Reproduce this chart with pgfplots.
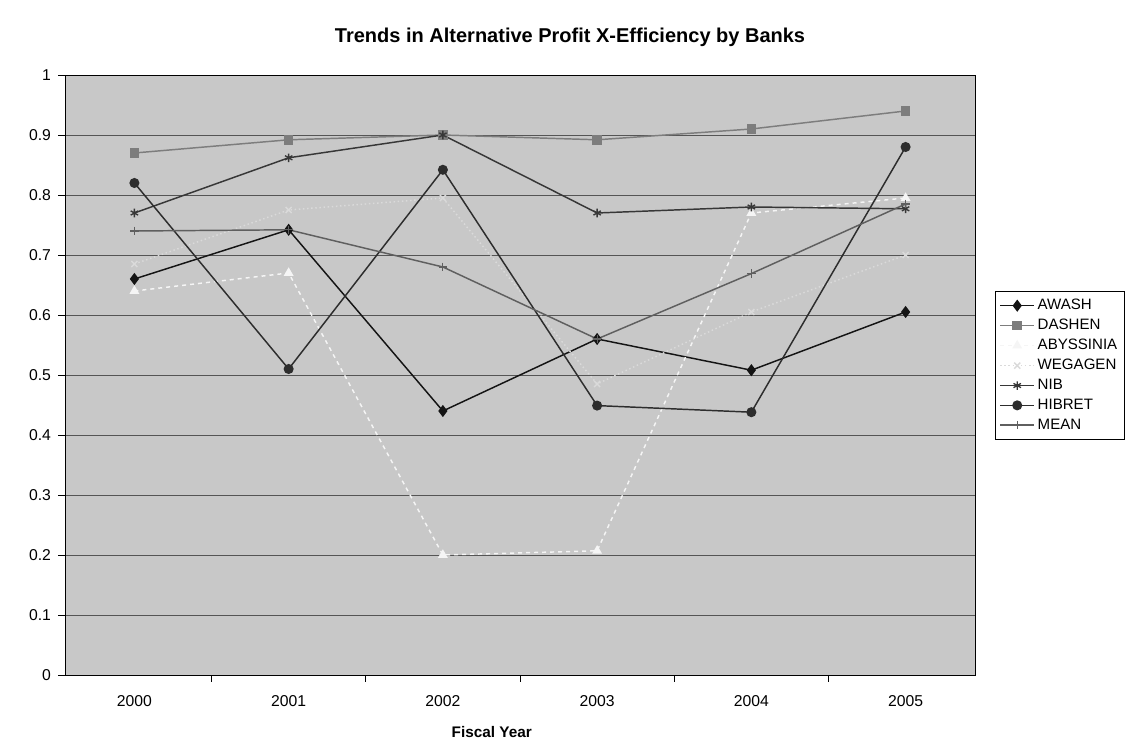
\documentclass[border=0pt]{standalone}
\usepackage{pgfplots}
\pgfplotsset{compat=1.18}
\usepackage{fontspec}
\setmainfont{Liberation Sans}
\definecolor{bgplot}{RGB}{200,200,200}
\definecolor{gridc}{RGB}{85,85,85}
\definecolor{cawash}{RGB}{20,20,20}
\definecolor{cdashen}{RGB}{125,125,125}
\definecolor{cabys}{RGB}{245,245,245}
\definecolor{cwega}{RGB}{218,218,218}
\definecolor{cnib}{RGB}{55,55,55}
\definecolor{chib}{RGB}{45,45,45}
\definecolor{cmean}{RGB}{95,95,95}
\begin{document}
\begin{tikzpicture}
\begin{axis}[
  scale only axis,
  width=682.5pt, height=450pt,
  xmin=-0.45, xmax=5.45,
  ymin=0, ymax=1,
  ytick={0,0.1,0.2,0.3,0.4,0.5,0.6,0.7,0.8,0.9,1},
  yticklabels={0,0.1,0.2,0.3,0.4,0.5,0.6,0.7,0.8,0.9,1},
  xtick={0,1,2,3,4,5},
  xticklabels={2000,2001,2002,2003,2004,2005},
  minor xtick={0.5,1.5,2.5,3.5,4.5},
  major x tick style={draw=none},
  tick align=outside,
  tick pos=left,
  major tick length=5pt,
  minor tick length=5pt,
  tick style={black, line width=0.6pt},
  ymajorgrids,
  grid style={gridc, line width=0.7pt},
  axis background/.style={fill=bgplot},
  axis line style={black, line width=0.7pt},
  /pgf/number format/assume math mode=true,
  ticklabel style={font=\fontsize{11.8}{13}\selectfont},
  xticklabel style={yshift=-7pt},
  yticklabel style={xshift=-2pt},
  xlabel={Fiscal Year},
  xlabel style={at={(axis description cs:0.469,0)}, anchor=center, yshift=-43pt, font=\bfseries\fontsize{11.5}{13}\selectfont},
  title={Trends in Alternative Profit X-Efficiency by Banks},
  title style={at={(axis description cs:0.555,1)}, anchor=center, yshift=22pt, font=\bfseries\fontsize{15}{17}\selectfont},
  legend style={at={(axis description cs:1.022,0.64)}, anchor=north west,
    draw=black, line width=0.6pt, fill=white, font=\fontsize{11.3}{13}\selectfont,
    row sep=1.6pt, inner xsep=3pt, inner ysep=4pt},
  legend cell align=left,
  legend image code/.code={\draw[mark repeat=2,mark phase=2] plot coordinates {(0cm,0cm) (0.45cm,0cm) (0.9cm,0cm)};},
  every axis plot/.append style={line width=1.1pt, mark size=3.2pt},
]
\addplot[cawash, mark=diamond*, mark options={solid, fill=cawash, scale=1.15}] coordinates {
 (0,0.66) (1,0.742) (2,0.44) (3,0.56) (4,0.508) (5,0.605)};
\addlegendentry{AWASH}
\addplot[cdashen, mark=square*, mark options={solid, fill=cdashen, scale=0.95}] coordinates {
 (0,0.87) (1,0.892) (2,0.9) (3,0.892) (4,0.91) (5,0.94)};
\addlegendentry{DASHEN}
\addplot[cabys, dashed, mark=triangle*, mark options={solid, fill=cabys}] coordinates {
 (0,0.64) (1,0.67) (2,0.2) (3,0.207) (4,0.77) (5,0.795)};
\addlegendentry{ABYSSINIA}
\addplot[cwega, dotted, mark=x, mark options={solid}] coordinates {
 (0,0.685) (1,0.775) (2,0.795) (3,0.485) (4,0.605) (5,0.70)};
\addlegendentry{WEGAGEN}
\addplot[cnib, mark=asterisk, mark options={solid, line width=1pt}] coordinates {
 (0,0.77) (1,0.862) (2,0.9) (3,0.77) (4,0.78) (5,0.777)};
\addlegendentry{NIB}
\addplot[chib, mark=*, mark options={solid, fill=chib}] coordinates {
 (0,0.82) (1,0.51) (2,0.842) (3,0.449) (4,0.438) (5,0.88)};
\addlegendentry{HIBRET}
\addplot[cmean, mark=+, mark options={solid, line width=0.9pt}] coordinates {
 (0,0.74) (1,0.742) (2,0.68) (3,0.56) (4,0.669) (5,0.785)};
\addlegendentry{MEAN}
\coordinate (SW) at (rel axis cs:0,0);
\coordinate (NE) at (rel axis cs:1,1);
\end{axis}
\pgfresetboundingbox
\path ([shift={(-48.75pt,-54.75pt)}]SW) rectangle ([shift={(118.5pt,56.25pt)}]NE);
\end{tikzpicture}
\end{document}
